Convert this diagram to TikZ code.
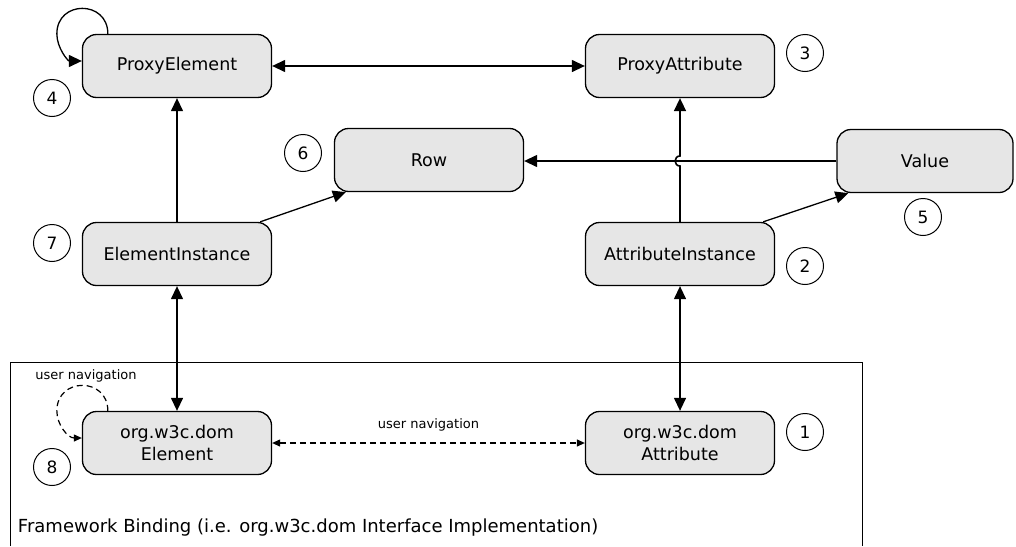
\documentclass[tikz,border=0pt]{standalone}
\usepackage{fontspec}
\setmainfont{DejaVu Sans}
\usetikzlibrary{arrows.meta}
\definecolor{boxgray}{RGB}{230,230,230}

\begin{document}
\begin{tikzpicture}[x=1pt,y=-1pt,line width=1.3pt]
          \tikzstyle{box} = [draw=black, fill=boxgray, rounded corners=14pt, minimum width=189pt, minimum height=63pt, inner sep=0pt, align=center, font=\fontsize{17.5}{22}\selectfont]
          \tikzstyle{marker} = [circle, draw=black, line width=1pt, minimum size=37pt, inner sep=0pt, font=\fontsize{17}{19}\selectfont]
          \tikzstyle{legend} = [font=\fontsize{13}{15}\selectfont]
          \tikzstyle{link} = [-{Triangle[length=13pt,width=12pt]}]
          \tikzstyle{both} = [{Triangle[length=13pt,width=12pt]}-{Triangle[length=13pt,width=12pt]}]
          \tikzstyle{nav} = [dash pattern=on 6pt off 4pt, line width=1.2pt]

          \useasboundingbox (0,0) rectangle (1016,546);

          % Framework binding
          \draw[line width=1pt] (10,546) -- (10,362) -- (862,362) -- (862,546);
          \node[anchor=base west, font=\fontsize{18}{21}\selectfont] (fwlabel) at (14,532) {Framework Binding (i.e. org.w3c.dom Interface Implementation)};

          % Nodes
          \node[box] (pelem) at (177,66) {ProxyElement};
          \node[box] (pattr) at (680,66) {ProxyAttribute};
          \node[box] (row) at (429,160) {Row};
          \node[box, minimum width=176pt] (value) at (925,161) {Value};
          \node[box] (einst) at (177,254) {ElementInstance};
          \node[box] (ainst) at (680,254) {AttributeInstance};
          \node[box] (delem) at (177,443) {org.w3c.dom\\Element};
          \node[box] (dattr) at (680,443) {org.w3c.dom\\Attribute};

          % Numbers
          \foreach \num / \x / \y in {1/805/432, 2/805/266, 3/805/53, 4/52/98, 5/923/217, 6/303/153, 7/52/243, 8/52/467}
            \node[marker] (m\num) at (\x,\y) {\num};

          % Edges
          \draw[both] (pelem) -- (pattr);
          \draw[link] (einst) -- (pelem);
          \draw[link] ([xshift=-12pt]einst.north east) -- ([xshift=12pt]row.south west);
          \draw[link] ([xshift=-12pt]ainst.north east) -- ([xshift=12pt]value.south west);
          \draw[link] (value.west) -- (value.west -| row.east);
          \coordinate (jump) at (ainst.north |- value.west);
          \draw[link, line width=1.6pt] (ainst.north) -- ([yshift=-5pt]jump)
            .. controls ([xshift=-6.5pt,yshift=-5pt]jump) and ([xshift=-6.5pt,yshift=5pt]jump) .. ([yshift=5pt]jump)
            -- (pattr.south);
          \draw[both] (einst) -- (delem);
          \draw[both] (ainst) -- (dattr);

          % Self loops
          \draw[link] ([xshift=26pt]pelem.north west) .. controls +(0,-34) and +(0,-34) .. +(-51,0)
            .. controls +(0,14) and +(-14,0) .. ([yshift=5pt]pelem.west);
          \draw[nav, -{Triangle[length=8pt,width=7pt]}] ([xshift=26pt]delem.north west) .. controls +(0,-34) and +(0,-34) .. +(-51,0)
            .. controls +(0,14) and +(-14,0) .. ([yshift=5pt]delem.west);
          \node[legend] (looplabel) at (86,376) {user navigation};

          % User navigation
          \draw[nav, {Triangle[length=8pt,width=7pt]}-{Triangle[length=8pt,width=7pt]}] (delem) -- node[legend, above=8pt] (navlabel) {user navigation} (dattr);

        \end{tikzpicture}
\end{document}
